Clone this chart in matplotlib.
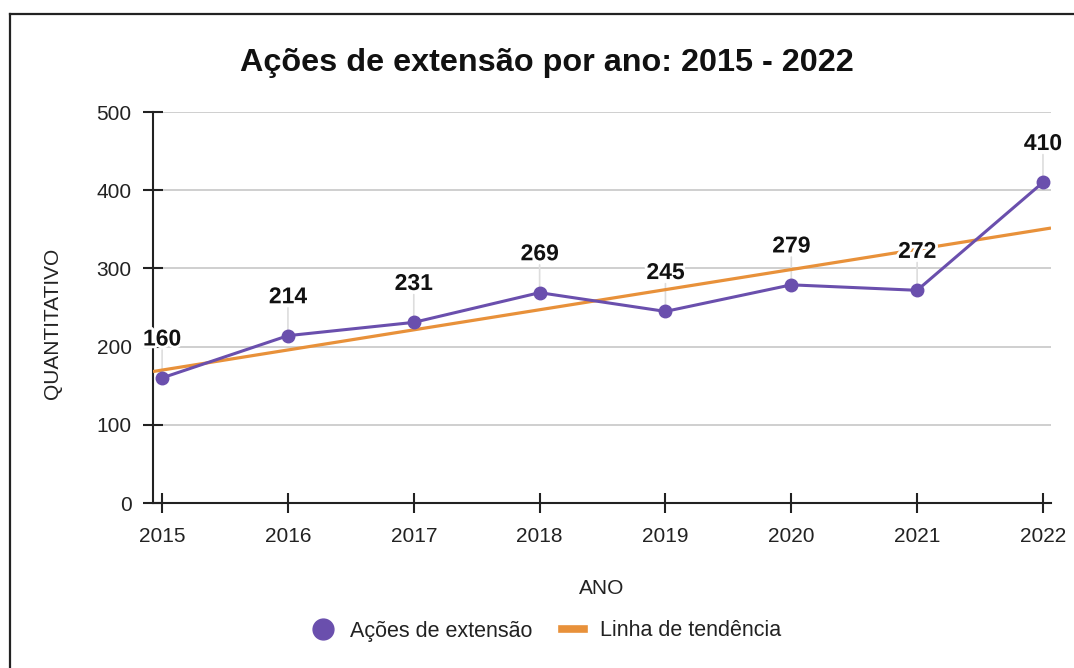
import matplotlib.pyplot as plt
import matplotlib.patheffects as pe
from matplotlib.lines import Line2D
import numpy as np

plt.rcParams['font.family'] = ['Liberation Sans', 'DejaVu Sans']

anos = [2015, 2016, 2017, 2018, 2019, 2020, 2021, 2022]
acoes = [160, 214, 231, 269, 245, 279, 272, 410]

PURPLE = '#6A4FAD'
ORANGE = '#E8913A'
TXT = '#222222'

fig = plt.figure(figsize=(10.74, 6.68), dpi=100)
ax = fig.add_axes([0.1425, 0.2470, 0.8361, 0.5853])

xmin, xmax = 2014.928, 2022.064
ax.set_xlim(xmin, xmax)
ax.set_ylim(0, 500)

# trend line (least squares over the series)
coef = np.polyfit(anos, acoes, 1)
xt = np.array([xmin, xmax])
ax.plot(xt, np.polyval(coef, xt), color=ORANGE, lw=2.3, zorder=3, solid_capstyle='butt')

ax.plot(anos, acoes, color=PURPLE, lw=2.2, marker='o', ms=9, zorder=4)

for x, y in zip(anos, acoes):
    # leader line below the markers
    ax.annotate('', xy=(x, y), xytext=(0, 20), textcoords='offset points', zorder=2,
                arrowprops=dict(arrowstyle='-', color='#dddddd', lw=1.2,
                                shrinkA=0, shrinkB=0))
    t = ax.annotate(str(y), xy=(x, y), xytext=(0, 28), textcoords='offset points',
                    ha='center', va='center', fontsize=16.5, fontweight='bold',
                    color='#111111', zorder=5)
    t.set_path_effects([pe.withStroke(linewidth=4, foreground='white')])

ax.set_yticks([0, 100, 200, 300, 400, 500])
ax.set_xticks(anos)
ax.grid(axis='y', color='#cccccc', lw=1.3, zorder=0)
ax.set_axisbelow(True)
for s in ['top', 'right']:
    ax.spines[s].set_visible(False)
for s in ['left', 'bottom']:
    ax.spines[s].set_color(TXT)
    ax.spines[s].set_linewidth(1.5)
ax.tick_params(axis='both', direction='inout', length=14, width=1.5, color=TXT,
               labelsize=15, labelcolor=TXT)
ax.tick_params(axis='y', pad=8.5)
ax.tick_params(axis='x', pad=10)

ax.set_ylabel('QUANTITATIVO', fontsize=15, color=TXT)
ax.set_xlabel('ANO', fontsize=15, color=TXT)
ax.yaxis.set_label_coords(-0.101, 0.46)
ax.xaxis.set_label_coords(0.5, -0.195)

fig.text(0.509, 0.906, 'Ações de extensão por ano: 2015 - 2022', ha='center', va='center',
         fontsize=23.3, fontweight='bold', color='#111111')

handles = [Line2D([], [], color=PURPLE, marker='o', ls='none', ms=15),
           Line2D([], [], color=ORANGE, lw=5.5)]
fig.legend(handles, ['Ações de extensão', 'Linha de tendência'], loc='center',
           bbox_to_anchor=(0.5087, 1 - 631 / 668), ncol=2, frameon=False,
           fontsize=15.5, handlelength=1.0, columnspacing=1.4, handletextpad=0.75,
           labelcolor=TXT)

# outer frame (top and left edges visible)
fig.add_artist(Line2D([9.5 / 1074, 9.5 / 1074], [0, 1 - 14 / 668], color=TXT, lw=1.6,
                      transform=fig.transFigure))
fig.add_artist(Line2D([9.5 / 1074, 1], [1 - 14 / 668, 1 - 14 / 668], color=TXT, lw=1.6,
                      transform=fig.transFigure))

fig.savefig('out.png', dpi=100)
